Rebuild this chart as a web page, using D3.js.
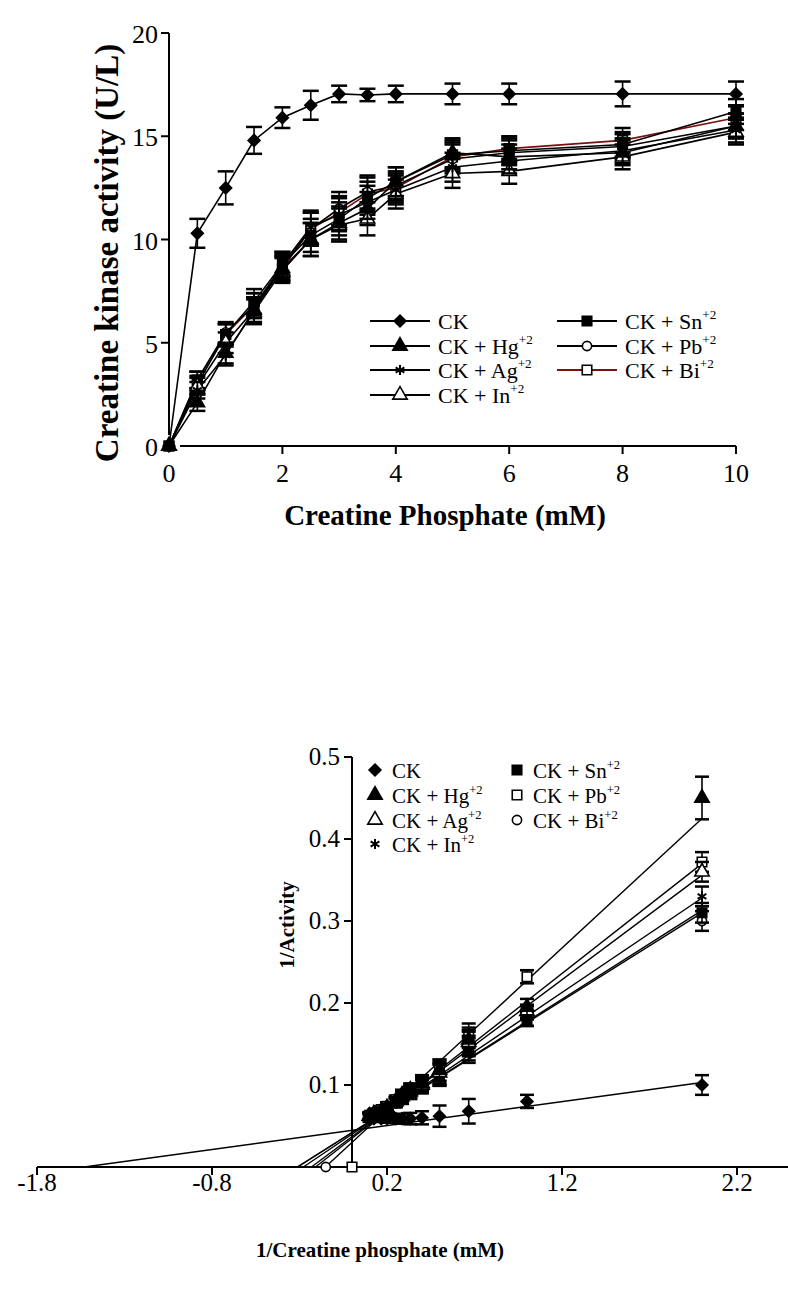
<!DOCTYPE html>
<html>
<head>
<meta charset="utf-8">
<script src="https://cdn.jsdelivr.net/npm/d3@7"></script>
<style>
	body { margin: 0; background: #fff; }
	text { font-family: "Liberation Serif", "Times New Roman", serif; fill: #000; }
</style>
</head>
<body>
<svg id="mainsvg" width="788" height="1305"></svg>
<script>
// ---- data ----
var conc = [0, 0.5, 1, 1.5, 2, 2.5, 3, 3.5, 4, 5, 6, 8, 10];
var ckAct = [0, 10.3, 12.5, 14.8, 15.9, 16.5, 17.05, 17.0, 17.05, 17.05, 17.05, 17.05, 17.05];
var hgAct = [0, 2.1, 4.5, 6.5, 8.5, 10.0, 10.8, 11.5, 12.8, 14.2, 14.0, 14.2, 15.5];
var agAct = [0, 2.7, 4.4, 6.6, 8.8, 10.6, 11.2, 11.8, 12.4, 13.5, 13.8, 14.3, 15.3];
var inAct = [0, 2.9, 5.0, 6.6, 8.6, 10.0, 10.7, 11.0, 12.2, 13.2, 13.3, 14.0, 15.2];
var snAct = [0, 3.0, 5.4, 7.0, 8.8, 10.2, 11.0, 12.0, 12.8, 14.1, 14.3, 14.6, 16.2];
var pbAct = [0, 3.2, 5.5, 6.8, 8.7, 10.5, 11.5, 12.3, 12.6, 13.9, 14.2, 14.5, 15.5];
var biAct = [0, 3.2, 5.4, 6.8, 8.6, 10.5, 11.3, 12.2, 12.5, 14.0, 14.4, 14.8, 15.9];
var ckErr = [0, 0.7, 0.8, 0.65, 0.5, 0.7, 0.4, 0.3, 0.4, 0.5, 0.5, 0.6, 0.6];
var ionErr = [0, 0.4, 0.5, 0.6, 0.6, 0.8, 0.8, 0.8, 0.7, 0.7, 0.6, 0.6, 0.6];

var invConc = [2, 1, 0.667, 0.5, 0.4, 0.333, 0.286, 0.25, 0.2, 0.167, 0.125, 0.1];
var ckInv = [0.100, 0.080, 0.068, 0.062, 0.060, 0.059, 0.059, 0.059, 0.059, 0.059, 0.059, 0.059];
var hgInv = [0.450, 0.195, 0.155, 0.118, 0.102, 0.094, 0.088, 0.080, 0.072, 0.068, 0.065, 0.062];
var agInv = [0.360, 0.190, 0.152, 0.115, 0.100, 0.092, 0.086, 0.080, 0.072, 0.068, 0.064, 0.062];
var inInv = [0.330, 0.188, 0.150, 0.114, 0.100, 0.092, 0.085, 0.080, 0.071, 0.068, 0.064, 0.062];
var snInv = [0.310, 0.180, 0.145, 0.112, 0.098, 0.090, 0.083, 0.078, 0.070, 0.067, 0.063, 0.061];
var pbInv = [0.372, 0.232, 0.160, 0.118, 0.104, 0.095, 0.088, 0.082, 0.074, 0.070, 0.066, 0.063];
var biInv = [0.300, 0.180, 0.142, 0.112, 0.098, 0.090, 0.083, 0.078, 0.071, 0.068, 0.064, 0.062];
var invErr = [0.012, 0.008, 0.015, 0.013, 0.008, 0.007, 0.006, 0.005, 0.005, 0.004, 0.004, 0.004];
var hgInvErr = [0.026, 0.01, 0.015, 0.013, 0.008, 0.007, 0.006, 0.005, 0.005, 0.004, 0.004, 0.004];
// linear fits (slope, intercept) of the double reciprocal plot
var fitSlope = [0.0292, 0.1975, 0.1595, 0.144, 0.1355, 0.1675, 0.134];
var fitIntercept = [0.0447, 0.030, 0.037, 0.040, 0.042, 0.035, 0.042];
// stray points lying on the x axis
var axisPtX = [-0.15, 0];
var axisPtSeries = [6, 5];

var names = ["CK", "CK + Hg", "CK + Ag", "CK + In", "CK + Sn", "CK + Pb", "CK + Bi"];
var sups = ["", "+2", "+2", "+2", "+2", "+2", "+2"];
var topMarks = ["diamond", "tri", "star", "otri", "square", "ocircle", "osquare"];
var botMarks = ["diamond", "tri", "otri", "star", "square", "osquare", "ocircle"];
var lineColors = ["#000", "#000", "#000", "#000", "#000", "#000", "#7a1010"];

var svg = d3.select('#mainsvg');

function markerPath(kind) {
	var s = 90;
	if (kind == "diamond") return d3.symbol().type(d3.symbolDiamond2).size(s)();
	if (kind == "tri" || kind == "otri") return d3.symbol().type(d3.symbolTriangle).size(s)();
	if (kind == "square" || kind == "osquare") return d3.symbol().type(d3.symbolSquare).size(s)();
	if (kind == "ocircle") return d3.symbol().type(d3.symbolCircle).size(s * 0.75)();
	if (kind == "star") return d3.symbol().type(d3.symbolAsterisk).size(s * 0.8)();
}

function drawMarker(g, kind, x, y) {
	var open = (kind.charAt(0) == "o");
	var p = g.append('path')
		.attr('d', markerPath(kind))
		.attr('transform', 'translate(' + x + ',' + y + ')')
		.attr('stroke', '#000')
		.attr('stroke-width', kind == "star" ? 2 : 1.6)
		.attr('fill', open ? '#fff' : '#000');
	if (kind == "star") p.attr('fill', 'none');
}

function label(g, x, y, i, size) {
	var t = g.append('text').attr('x', x).attr('y', y).style('font-size', size + 'px');
	t.append('tspan').text(names[i]);
	if (sups[i]) t.append('tspan').attr('dy', -size * 0.45).style('font-size', (size * 0.6) + 'px').text(sups[i]);
}

// ================= top chart =================
var x1 = d3.scaleLinear().domain([0, 10]).range([169, 736]);
var y1 = d3.scaleLinear().domain([0, 20]).range([446, 33]);
var topG = svg.append('g');
var topSeries = [ckAct, hgAct, agAct, inAct, snAct, pbAct, biAct];

// axes (offset style)
topG.append('line').attr('x1', x1(0) + 11).attr('x2', x1(10)).attr('y1', y1(0)).attr('y2', y1(0))
	.attr('stroke', '#000').attr('stroke-width', 2);
[2, 4, 6, 8, 10].forEach(function (v) {
	topG.append('line').attr('x1', x1(v)).attr('x2', x1(v)).attr('y1', y1(0)).attr('y2', y1(0) + 8)
		.attr('stroke', '#000').attr('stroke-width', 2);
});
[0, 2, 4, 6, 8, 10].forEach(function (v) {
	topG.append('text').attr('x', x1(v)).attr('y', 482).attr('text-anchor', 'middle')
		.style('font-size', '26px').text(v);
});
topG.append('line').attr('x1', x1(0)).attr('x2', x1(0)).attr('y1', y1(20)).attr('y2', y1(0) - 11)
	.attr('stroke', '#000').attr('stroke-width', 2);
[5, 10, 15, 20].forEach(function (v) {
	topG.append('line').attr('x1', x1(0) - 8).attr('x2', x1(0)).attr('y1', y1(v)).attr('y2', y1(v))
		.attr('stroke', '#000').attr('stroke-width', 2);
});
[0, 5, 10, 15, 20].forEach(function (v) {
	topG.append('text').attr('x', 158).attr('y', y1(v) + 10).attr('text-anchor', 'end')
		.style('font-size', '26px').text(v);
});
topG.append('text').attr('x', 445).attr('y', 525).attr('text-anchor', 'middle')
	.style('font-size', '29px').style('font-weight', 'bold').text('Creatine Phosphate (mM)');
topG.append('text').attr('transform', 'translate(118,253) rotate(-90)').attr('text-anchor', 'middle')
	.style('font-size', '33px').style('font-weight', 'bold').text('Creatine kinase activity (U/L)');

// lines, error bars, markers
var line1 = d3.line().x(function (d) { return x1(d[0]); }).y(function (d) { return y1(d[1]); });
for (var s = topSeries.length - 1; s >= 0; s--) {
	var pts = conc.map(function (c, k) { return [c, topSeries[s][k]]; });
	topG.append('path').attr('d', line1(pts)).attr('fill', 'none')
		.attr('stroke', lineColors[s]).attr('stroke-width', 1.6);
}
for (var s = topSeries.length - 1; s >= 0; s--) {
	var err = (s == 0) ? ckErr : ionErr;
	conc.forEach(function (c, k) {
		var v = topSeries[s][k];
		if (err[k] > 0) {
			var xx = x1(c);
			topG.append('line').attr('x1', xx).attr('x2', xx).attr('y1', y1(v - err[k])).attr('y2', y1(v + err[k]))
				.attr('stroke', '#000').attr('stroke-width', 1.6);
			[v - err[k], v + err[k]].forEach(function (e) {
				topG.append('line').attr('x1', xx - 8).attr('x2', xx + 8).attr('y1', y1(e)).attr('y2', y1(e))
					.attr('stroke', '#000').attr('stroke-width', 2.5);
			});
		}
		drawMarker(topG, topMarks[s], x1(c), y1(v));
	});
}

// legend
var legTop = [[370, 321], [370, 346], [370, 370], [370, 395], [557, 321], [557, 346], [557, 370]];
legTop.forEach(function (p, i) {
	topG.append('line').attr('x1', p[0]).attr('x2', p[0] + 60).attr('y1', p[1]).attr('y2', p[1])
		.attr('stroke', lineColors[i]).attr('stroke-width', 2);
	drawMarker(topG, topMarks[i], p[0] + 30, p[1]);
	label(topG, p[0] + 68, p[1] + 8, i, 22);
});

// ================= bottom chart =================
var x2 = d3.scaleLinear().domain([-1.8, 2.2]).range([37, 737]);
var y2 = d3.scaleLinear().domain([0, 0.5]).range([1167, 757]);
var bot = svg.append('g');
var botSeries = [ckInv, hgInv, agInv, inInv, snInv, pbInv, biInv];

bot.append('line').attr('x1', x2(-1.8)).attr('x2', 788).attr('y1', y2(0)).attr('y2', y2(0))
	.attr('stroke', '#000').attr('stroke-width', 2);
[-1.8, -0.8, 0.2, 1.2, 2.2].forEach(function (v) {
	bot.append('line').attr('x1', x2(v)).attr('x2', x2(v)).attr('y1', y2(0)).attr('y2', y2(0) + 8)
		.attr('stroke', '#000').attr('stroke-width', 2);
	bot.append('text').attr('x', x2(v)).attr('y', 1191).attr('text-anchor', 'middle')
		.style('font-size', '25px').text(v);
});
bot.append('line').attr('x1', x2(0)).attr('x2', x2(0)).attr('y1', y2(0.5)).attr('y2', y2(0))
	.attr('stroke', '#000').attr('stroke-width', 2);
[0.1, 0.2, 0.3, 0.4, 0.5].forEach(function (v) {
	bot.append('line').attr('x1', x2(0) - 8).attr('x2', x2(0)).attr('y1', y2(v)).attr('y2', y2(v))
		.attr('stroke', '#000').attr('stroke-width', 2);
	bot.append('text').attr('x', 340).attr('y', y2(v) + 8).attr('text-anchor', 'end')
		.style('font-size', '25px').text(v.toFixed(1));
});
bot.append('text').attr('x', 380).attr('y', 1257).attr('text-anchor', 'middle')
	.style('font-size', '21px').style('font-weight', 'bold').text('1/Creatine phosphate (mM)');
bot.append('text').attr('transform', 'translate(294,925) rotate(-90)').attr('text-anchor', 'middle')
	.style('font-size', '21px').style('font-weight', 'bold').text('1/Activity');

// fitted lines
for (var s = 0; s < botSeries.length; s++) {
	var x0 = -fitIntercept[s] / fitSlope[s];
	bot.append('line').attr('x1', x2(x0)).attr('y1', y2(0))
		.attr('x2', x2(2)).attr('y2', y2(fitIntercept[s] + fitSlope[s] * 2))
		.attr('stroke', '#000').attr('stroke-width', 1.4);
}
for (var s = botSeries.length - 1; s >= 0; s--) {
	var err = (s == 1) ? hgInvErr : invErr;
	invConc.forEach(function (c, k) {
		var v = botSeries[s][k];
		var xx = x2(c);
		bot.append('line').attr('x1', xx).attr('x2', xx).attr('y1', y2(v - err[k])).attr('y2', y2(v + err[k]))
			.attr('stroke', '#000').attr('stroke-width', 1.6);
		[v - err[k], v + err[k]].forEach(function (e) {
			bot.append('line').attr('x1', xx - 7).attr('x2', xx + 7).attr('y1', y2(e)).attr('y2', y2(e))
				.attr('stroke', '#000').attr('stroke-width', 2.5);
		});
		drawMarker(bot, botMarks[s], xx, y2(v));
	});
}
axisPtX.forEach(function (v, i) {
	drawMarker(bot, botMarks[axisPtSeries[i]], x2(v), y2(0));
});

// legend (markers only)
var legBot = [[375, 772], [375, 797], [375, 822], [375, 846], [517, 772], [517, 797], [517, 822]];
legBot.forEach(function (p, i) {
	drawMarker(bot, botMarks[i], p[0], p[1] - 2);
	label(bot, p[0] + (i < 4 ? 17 : 16), p[1] + 6, i, 21);
});
</script>
</body>
</html>
